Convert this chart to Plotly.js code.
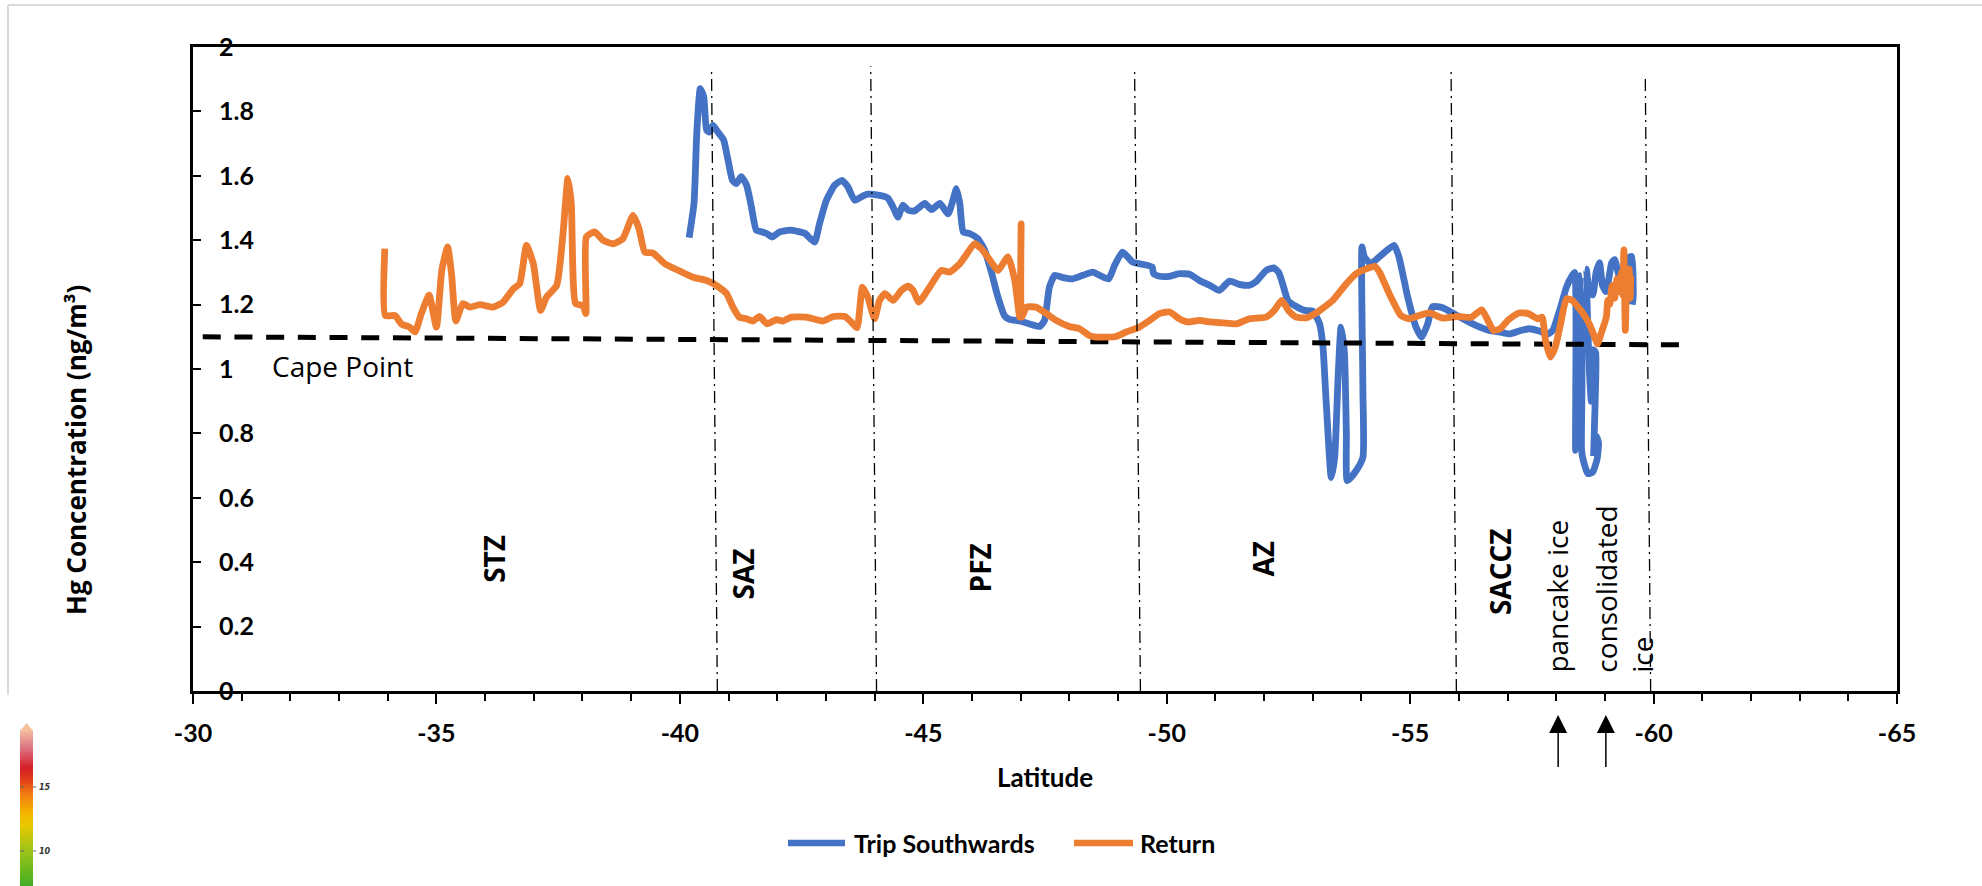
<!DOCTYPE html>
<html>
<head>
<meta charset="utf-8">
<script src="https://cdn.plot.ly/plotly-3.0.1.min.js"></script>
<style>
  html, body { margin: 0; padding: 0; background: #ffffff; }
  #chart { width: 1982px; height: 886px; }
</style>
</head>
<body>
<div id="chart"></div>
<script>
// ---------------- data ----------------
const tripLat = [-40.19,-40.29,-40.35,-40.42,-40.49,-40.55,-40.61,-40.68,-40.78,-40.90,-40.99,-41.08,-41.16,-41.26,-41.37,-41.47,-41.57,-41.68,-41.79,-41.90,-42.05,-42.26,-42.56,-42.68,-42.77,-42.87,-43.01,-43.18,-43.33,-43.45,-43.59,-43.73,-43.86,-44.10,-44.27,-44.38,-44.48,-44.58,-44.69,-44.82,-45.03,-45.17,-45.34,-45.51,-45.60,-45.68,-45.75,-45.82,-45.96,-46.12,-46.26,-46.40,-46.53,-46.67,-46.77,-46.98,-47.18,-47.39,-47.49,-47.59,-47.70,-47.87,-48.07,-48.28,-48.48,-48.69,-48.81,-48.93,-49.09,-49.20,-49.30,-49.51,-49.70,-49.73,-49.85,-50.06,-50.26,-50.47,-50.67,-50.88,-51.08,-51.29,-51.49,-51.70,-51.84,-52.04,-52.20,-52.30,-52.38,-52.49,-52.66,-52.83,-53.00,-53.14,-53.21,-53.27,-53.38,-53.45,-53.52,-53.58,-53.65,-53.69,-53.71,-53.89,-54.03,-54.03,-54.01,-54.06,-54.19,-54.40,-54.67,-54.77,-54.95,-55.12,-55.24,-55.36,-55.46,-55.67,-55.87,-56.08,-56.36,-56.63,-56.83,-57.04,-57.24,-57.45,-57.65,-57.83,-57.93,-58.07,-58.21,-58.31,-58.38,-58.40,-58.44,-58.47,-58.50,-58.53,-58.52,-58.55,-58.65,-58.75,-58.84,-58.87,-58.83,-58.78,-58.77,-58.80,-58.81,-58.76,-58.72,-58.68,-58.62,-58.68,-58.75,-58.82,-58.89,-58.95,-59.02,-59.08,-59.14,-59.20,-59.27,-59.33,-59.40,-59.48,-59.55,-59.58,-59.56];
const tripHg  = [1.408,1.514,1.742,1.871,1.845,1.742,1.736,1.757,1.736,1.711,1.648,1.586,1.576,1.597,1.571,1.503,1.431,1.426,1.420,1.410,1.426,1.431,1.422,1.405,1.394,1.452,1.524,1.571,1.586,1.566,1.524,1.535,1.543,1.539,1.531,1.503,1.472,1.509,1.493,1.491,1.514,1.495,1.514,1.482,1.519,1.560,1.514,1.426,1.420,1.405,1.369,1.300,1.225,1.165,1.154,1.149,1.140,1.132,1.151,1.254,1.291,1.284,1.280,1.291,1.301,1.286,1.280,1.322,1.363,1.348,1.332,1.325,1.317,1.296,1.288,1.288,1.296,1.294,1.275,1.260,1.244,1.273,1.263,1.260,1.272,1.306,1.314,1.300,1.265,1.213,1.194,1.182,1.180,1.140,1.068,0.912,0.663,0.726,0.975,1.130,1.050,0.800,0.653,0.684,0.726,0.933,1.379,1.348,1.327,1.353,1.384,1.348,1.223,1.130,1.099,1.140,1.194,1.190,1.174,1.156,1.135,1.120,1.115,1.109,1.118,1.125,1.118,1.109,1.120,1.182,1.254,1.286,1.300,0.747,0.800,1.200,1.290,0.950,0.750,0.720,0.675,0.680,0.720,0.770,0.790,0.770,0.740,0.900,1.050,1.060,0.900,1.000,1.310,1.240,1.230,1.300,1.330,1.260,1.240,1.280,1.330,1.340,1.300,1.270,1.300,1.345,1.350,1.220,1.200];

const returnLat = [-33.94,-33.95,-34.15,-34.28,-34.45,-34.56,-34.69,-34.85,-35.00,-35.11,-35.23,-35.31,-35.40,-35.54,-35.69,-35.89,-36.16,-36.37,-36.58,-36.71,-36.85,-36.99,-37.14,-37.26,-37.47,-37.60,-37.70,-37.77,-37.86,-38.01,-38.07,-38.08,-38.25,-38.42,-38.63,-38.83,-39.04,-39.16,-39.28,-39.45,-39.69,-40.00,-40.27,-40.55,-40.75,-40.96,-41.09,-41.22,-41.37,-41.50,-41.64,-41.79,-41.98,-42.12,-42.29,-42.60,-42.94,-43.15,-43.39,-43.52,-43.64,-43.75,-43.86,-44.00,-44.10,-44.21,-44.38,-44.55,-44.69,-44.79,-44.91,-45.13,-45.37,-45.54,-45.75,-45.92,-46.05,-46.19,-46.36,-46.53,-46.74,-46.88,-46.98,-47.01,-47.02,-47.12,-47.32,-47.53,-47.73,-48.00,-48.21,-48.41,-48.55,-48.96,-49.17,-49.44,-49.65,-49.85,-50.06,-50.26,-50.43,-50.67,-50.88,-51.15,-51.43,-51.70,-52.04,-52.21,-52.36,-52.50,-52.66,-52.87,-53.07,-53.41,-53.69,-53.89,-54.10,-54.27,-54.37,-54.57,-54.81,-54.98,-55.19,-55.40,-55.67,-55.95,-56.26,-56.47,-56.58,-56.71,-56.85,-57.02,-57.23,-57.43,-57.62,-57.71,-57.78,-57.88,-57.98,-58.09,-58.21,-58.33,-58.45,-58.58,-58.68,-58.79,-58.85,-58.92,-59.03,-59.06,-59.10,-59.15,-59.20,-59.25,-59.30,-59.34,-59.37,-59.39,-59.42,-59.45,-59.48,-59.50,-59.52,-59.53];
const returnHg  = [1.374,1.166,1.166,1.140,1.130,1.115,1.172,1.229,1.130,1.306,1.379,1.296,1.149,1.203,1.192,1.200,1.192,1.208,1.249,1.265,1.384,1.327,1.182,1.223,1.260,1.420,1.592,1.514,1.203,1.197,1.172,1.410,1.426,1.400,1.389,1.405,1.477,1.436,1.363,1.360,1.327,1.304,1.285,1.275,1.260,1.234,1.192,1.161,1.156,1.149,1.163,1.140,1.153,1.149,1.161,1.161,1.149,1.163,1.163,1.146,1.128,1.254,1.223,1.156,1.213,1.234,1.213,1.244,1.257,1.244,1.208,1.254,1.306,1.301,1.327,1.363,1.389,1.374,1.340,1.306,1.348,1.275,1.161,1.451,1.161,1.192,1.192,1.172,1.151,1.132,1.125,1.104,1.099,1.101,1.115,1.130,1.151,1.172,1.177,1.156,1.146,1.151,1.146,1.143,1.140,1.156,1.161,1.182,1.213,1.182,1.161,1.159,1.174,1.213,1.265,1.296,1.311,1.319,1.301,1.234,1.166,1.156,1.166,1.174,1.158,1.163,1.161,1.184,1.156,1.120,1.125,1.153,1.174,1.172,1.156,1.161,1.089,1.037,1.068,1.140,1.218,1.213,1.192,1.166,1.140,1.099,1.078,1.109,1.161,1.213,1.200,1.260,1.220,1.280,1.240,1.300,1.230,1.370,1.120,1.300,1.240,1.310,1.220,1.290,1.270];

// Cape Point reference level
const capePointLat = [-30.2, -60.55];
const capePointHg  = [1.10, 1.075];

// zone boundaries (fronts)
const frontLatBottom = [-40.77, -44.04, -49.46, -55.95, -59.94];
const frontLatTop    = [-40.65, -43.92, -49.34, -55.84, -59.83];
const frontTopHg     = [1.935, 1.94, 1.935, 1.935, 1.91];

// zone labels
const zoneNames   = ['STZ', 'SAZ', 'PFZ', 'AZ', 'SACCZ'];
const zoneNameLat = [-36.18, -41.29, -46.16, -51.97, -56.85];
const zoneNameHg  = [0.41, 0.364, 0.383, 0.41, 0.37];

// ice labels and arrows
const iceLabels   = ['pancake ice', 'consolidated<br>ice'];
const iceLabelLat = [-58.02, -59.40];
const iceArrowLat = [-58.04, -59.02];

// axis ticks
const xTickVals   = [-30, -35, -40, -45, -50, -55, -60, -65];
const xTickLabels = ['-30', '-35', '-40', '-45', '-50', '-55', '-60', '-65'];

const seriesNames = ['Trip Southwards', 'Return'];

// stray colour scale (lower-left corner of the source image)
const scaleTickVals   = [15, 10];
const scaleStopVals   = [19.45, 18, 16.5, 15.5, 14.5, 13, 12, 10, 8, 6.8];
const scaleStopColors = ['#f4bea0', '#dc7080', '#d41f26', '#e04018', '#f07a10', '#f6b400', '#e8c800', '#9cc31a', '#5cb41e', '#2ea52e'];

// ---------------- helpers ----------------
const W = 1982, H = 886;
const M = {l: 193, r: 85, t: 47, b: 195};
const PW = W - M.l - M.r, PH = H - M.t - M.b;
const px = v => (v - M.l) / PW;
const py = v => (H - M.b - v) / PH;

const BLUE = '#4472C4', ORANGE = '#ED7D31';
const LW = 6.8;

const traces = [
  {
    type: 'scatter', mode: 'lines', name: seriesNames[0],
    x: tripLat, y: tripHg,
    line: {color: BLUE, width: LW, shape: 'spline', smoothing: 0.5},
    showlegend: false, hoverinfo: 'x+y'
  },
  {
    type: 'scatter', mode: 'lines', name: 'Cape Point',
    x: capePointLat, y: capePointHg,
    line: {color: '#000000', width: 5, dash: '18px,13.7px'},
    showlegend: false, hoverinfo: 'skip'
  },
  {
    type: 'scatter', mode: 'lines', name: seriesNames[1],
    x: returnLat, y: returnHg,
    line: {color: ORANGE, width: LW, shape: 'spline', smoothing: 0.5},
    showlegend: false, hoverinfo: 'x+y'
  }
];

const shapes = [];
for (let i = 0; i < frontLatBottom.length; i++) {
  shapes.push({
    type: 'line', xref: 'x', yref: 'y', layer: 'above',
    x0: frontLatBottom[i], y0: 0, x1: frontLatTop[i], y1: frontTopHg[i],
    line: {color: '#000000', width: 1.3, dash: '12px,5px,2px,5px'}
  });
}
// ice arrows
iceArrowLat.forEach(lat => {
  shapes.push({type: 'line', xref: 'x', yref: 'paper', x0: lat, x1: lat, y0: py(767), y1: py(730),
    line: {color: '#000000', width: 1.5}});
  shapes.push({type: 'path', xref: 'x', yref: 'paper',
    path: `M ${lat + 0.185} ${py(733)} L ${lat - 0.185} ${py(733)} L ${lat} ${py(715)} Z`,
    fillcolor: '#000000', line: {width: 0}});
});
// legend symbols
shapes.push({type: 'line', xref: 'paper', yref: 'paper', x0: px(788), x1: px(845), y0: py(843), y1: py(843), line: {color: BLUE, width: 6.5}});
shapes.push({type: 'line', xref: 'paper', yref: 'paper', x0: px(1074), x1: px(1133), y0: py(843), y1: py(843), line: {color: ORANGE, width: 6.5}});
// light grey image border
shapes.push({type: 'line', xref: 'paper', yref: 'paper', x0: px(8), x1: px(8), y0: py(5), y1: py(695), line: {color: '#d9d9d9', width: 2}});
shapes.push({type: 'line', xref: 'paper', yref: 'paper', x0: px(8), x1: px(1982), y0: py(5), y1: py(5), line: {color: '#d9d9d9', width: 2}});

// colour-scale bar drawn as thin bands
const scaleY = v => 787 - (v - 15) * 12.8;      // pixel row of a scale value
const hex2rgb = h => [1, 3, 5].map(i => parseInt(h.substr(i, 2), 16));
function scaleColor(v) {
  for (let i = 0; i < scaleStopVals.length - 1; i++) {
    const a = scaleStopVals[i], b = scaleStopVals[i + 1];
    if (v <= a && v >= b) {
      const t = (a - v) / (a - b);
      const ca = hex2rgb(scaleStopColors[i]), cb = hex2rgb(scaleStopColors[i + 1]);
      const c = ca.map((x, k) => Math.round(x + (cb[k] - x) * t));
      return `rgb(${c[0]},${c[1]},${c[2]})`;
    }
  }
  return scaleStopColors[scaleStopColors.length - 1];
}
for (let y = 730; y < 888; y += 2) {
  const v = 15 - (y + 1 - 787) / 12.8;
  shapes.push({type: 'rect', xref: 'paper', yref: 'paper', layer: 'above',
    x0: px(20), x1: px(33), y0: py(y), y1: py(y + 2.4),
    fillcolor: scaleColor(v), line: {width: 0}});
}
shapes.push({type: 'path', xref: 'paper', yref: 'paper',
  path: `M ${px(20)} ${py(731)} L ${px(33)} ${py(731)} L ${px(26.5)} ${py(723)} Z`,
  fillcolor: '#f6bf9c', line: {width: 0}});
scaleTickVals.forEach(v => {
  shapes.push({type: 'line', xref: 'paper', yref: 'paper', layer: 'above',
    x0: px(20), x1: px(24), y0: py(scaleY(v)), y1: py(scaleY(v)), line: {color: '#666', width: 1}});
  shapes.push({type: 'line', xref: 'paper', yref: 'paper', layer: 'above',
    x0: px(33), x1: px(36), y0: py(scaleY(v)), y1: py(scaleY(v)), line: {color: '#666', width: 1}});
});

const annotations = [];
annotations.push({
  xref: 'paper', yref: 'paper', x: px(76), y: py(450), textangle: -90,
  text: '<b>Hg Concentration (ng/m³)</b>', showarrow: false,
  xanchor: 'center', yanchor: 'middle',
  font: {family: 'Open Sans', size: 26, color: '#000000'}
});
annotations.push({
  xref: 'x', yref: 'y', x: -33.08, y: 1.008, text: 'Cape Point', showarrow: false,
  xanchor: 'center', yanchor: 'middle',
  font: {family: 'Open Sans', size: 28, color: '#000000'}
});
zoneNames.forEach((n, i) => annotations.push({
  xref: 'x', yref: 'y', x: zoneNameLat[i], y: zoneNameHg[i], text: '<b>' + n + '</b>',
  textangle: -90, showarrow: false, xanchor: 'center', yanchor: 'middle',
  font: {family: 'Open Sans', size: 28, color: '#000000'}
}));
iceLabels.forEach((n, i) => annotations.push({
  xref: 'x', yref: 'y', x: iceLabelLat[i], y: 0.05, text: n, align: 'left',
  textangle: -90, showarrow: false, xanchor: 'center', yanchor: 'bottom',
  font: {family: 'Open Sans', size: 28, color: '#000000'}
}));
annotations.push({
  xref: 'paper', yref: 'paper', x: px(852), y: py(843), text: '<b>' + seriesNames[0] + '</b>',
  showarrow: false, xanchor: 'left', yanchor: 'middle',
  font: {family: 'Lato', size: 25, color: '#000000'}
});
annotations.push({
  xref: 'paper', yref: 'paper', x: px(1138), y: py(843), text: '<b>' + seriesNames[1] + '</b>',
  showarrow: false, xanchor: 'left', yanchor: 'middle',
  font: {family: 'Lato', size: 25, color: '#000000'}
});
scaleTickVals.forEach(v => annotations.push({
  xref: 'paper', yref: 'paper', x: px(37), y: py(scaleY(v)), text: '<b><i>' + v + '</i></b>',
  showarrow: false, xanchor: 'left', yanchor: 'middle',
  font: {family: 'DejaVu Sans', size: 8, color: '#333333'}
}));

const layout = {
  width: W, height: H,
  margin: {l: M.l, r: M.r, t: M.t, b: M.b, pad: 0},
  paper_bgcolor: '#ffffff', plot_bgcolor: '#ffffff',
  showlegend: false,
  xaxis: {
    range: [-30, -65], autorange: false,
    tickmode: 'array', tickvals: xTickVals, ticktext: xTickLabels,
    ticks: 'outside', ticklen: 10, tickwidth: 2, tickcolor: '#000000',
    minor: {tickmode: 'linear', tick0: -30, dtick: 1, ticks: 'outside', ticklen: 7, tickwidth: 2, tickcolor: '#000000', showgrid: false},
    showline: true, linewidth: 3, linecolor: '#000000', mirror: true,
    showgrid: false, zeroline: false,
    tickfont: {family: 'Lato', size: 25, color: '#000000', weight: 'bold'},
    ticklabelstandoff: 8,
    title: {text: '<b>Latitude</b>', font: {family: 'Lato', size: 26, color: '#000000'}, standoff: 23}
  },
  yaxis: {
    range: [0, 2], autorange: false, tick0: 0, dtick: 0.2,
    ticks: 'inside', ticklen: 8, tickwidth: 2, tickcolor: '#000000',
    ticklabelposition: 'inside', ticklabeloverflow: 'allow', ticklabelstandoff: 20,
    showline: true, linewidth: 3, linecolor: '#000000', mirror: true,
    showgrid: false, zeroline: false,
    tickfont: {family: 'Lato', size: 25, color: '#000000', weight: 'bold'}
  },
  shapes: shapes,
  annotations: annotations
};

Plotly.newPlot('chart', traces, layout, {staticPlot: true, displayModeBar: false});
</script>
</body>
</html>
